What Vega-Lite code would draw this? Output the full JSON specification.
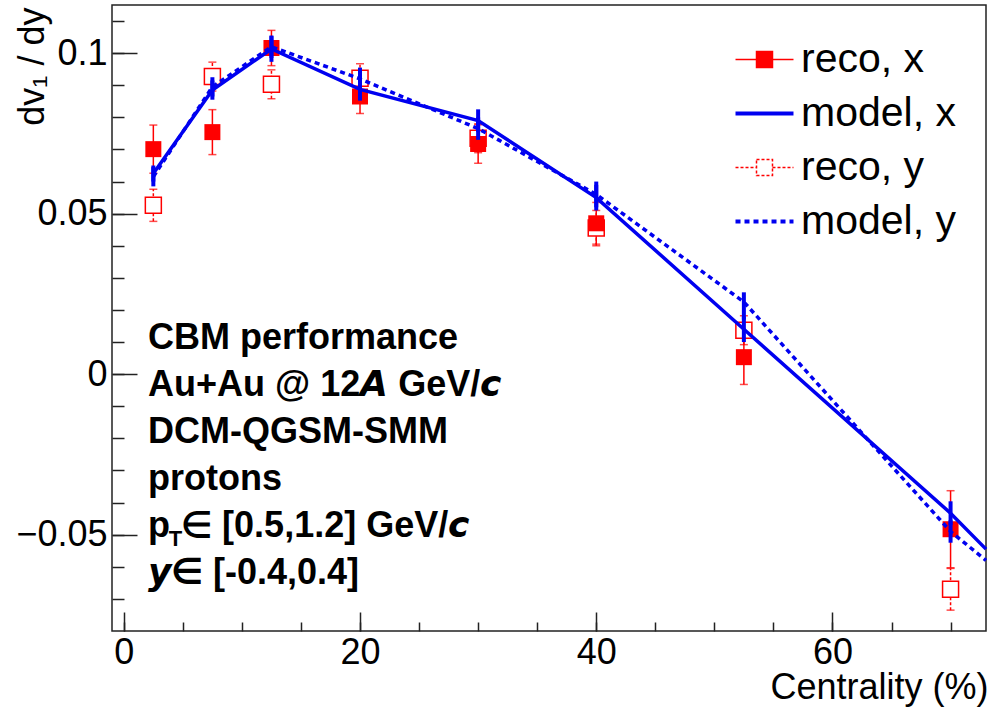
{
  "$schema": "https://vega.github.io/schema/vega-lite/v6.json",
  "width": 874,
  "height": 626,
  "autosize": {"type": "none"},
  "padding": {"left": 112, "top": 5, "right": 6, "bottom": 76},
  "background": "white",
  "config": {
    "view": {"stroke": "#222", "strokeWidth": 1.5},
    "font": "Liberation Sans",
    "axis": {
      "grid": false, "domain": false, "tickColor": "#222", "tickWidth": 1.5,
      "labelFont": "Liberation Sans", "labelFontSize": 36, "labelColor": "#000",
      "titleFont": "Liberation Sans", "titleFontSize": 36, "titleFontWeight": "normal", "titleColor": "#000"
    },
    "legend": {
      "orient": "none", "legendX": 632, "legendY": 34, "padding": 0,
      "symbolSize": 900, "symbolOpacity": 1, "labelFont": "Liberation Sans", "labelFontSize": 41,
      "labelColor": "#000", "labelOffset": 16, "rowPadding": 12, "symbolOffset": 0
    }
  },
  "datasets": {
    "pts": [
      {"series": "reco, x", "c": 2.5, "v": 0.0701, "lo": 0.0626, "hi": 0.0776},
      {"series": "reco, x", "c": 7.5, "v": 0.0754, "lo": 0.0684, "hi": 0.0824},
      {"series": "reco, x", "c": 12.5, "v": 0.1016, "lo": 0.0961, "hi": 0.1071},
      {"series": "reco, x", "c": 20, "v": 0.0865, "lo": 0.0812, "hi": 0.0918},
      {"series": "reco, x", "c": 30, "v": 0.0717, "lo": 0.0657, "hi": 0.0777},
      {"series": "reco, x", "c": 40, "v": 0.047, "lo": 0.0405, "hi": 0.0535},
      {"series": "reco, x", "c": 52.5, "v": 0.0053, "lo": -0.0032, "hi": 0.0138},
      {"series": "reco, x", "c": 70, "v": -0.0483, "lo": -0.0603, "hi": -0.0363},
      {"series": "reco, y", "c": 2.5, "v": 0.0526, "lo": 0.0476, "hi": 0.0576},
      {"series": "reco, y", "c": 7.5, "v": 0.0927, "lo": 0.0882, "hi": 0.0972},
      {"series": "reco, y", "c": 12.5, "v": 0.0903, "lo": 0.0858, "hi": 0.0948},
      {"series": "reco, y", "c": 20, "v": 0.0922, "lo": 0.0877, "hi": 0.0967},
      {"series": "reco, y", "c": 30, "v": 0.0735, "lo": 0.069, "hi": 0.078},
      {"series": "reco, y", "c": 40, "v": 0.0455, "lo": 0.04, "hi": 0.051},
      {"series": "reco, y", "c": 52.5, "v": 0.0137, "lo": 0.0092, "hi": 0.0182},
      {"series": "reco, y", "c": 70, "v": -0.067, "lo": -0.0735, "hi": -0.0605},
      {"series": "model, x", "c": 2.5, "v": 0.0625, "lo": 0.06, "hi": 0.065},
      {"series": "model, x", "c": 7.5, "v": 0.0885, "lo": 0.0855, "hi": 0.0915},
      {"series": "model, x", "c": 12.5, "v": 0.1013, "lo": 0.0973, "hi": 0.1053},
      {"series": "model, x", "c": 20, "v": 0.0887, "lo": 0.0852, "hi": 0.0922},
      {"series": "model, x", "c": 30, "v": 0.079, "lo": 0.0755, "hi": 0.0825},
      {"series": "model, x", "c": 40, "v": 0.055, "lo": 0.051, "hi": 0.059},
      {"series": "model, x", "c": 52.5, "v": 0.014, "lo": 0.01, "hi": 0.018},
      {"series": "model, x", "c": 70, "v": -0.0433, "lo": -0.047, "hi": -0.0396},
      {"series": "model, x", "c": 73, "v": -0.0545, "lo": null, "hi": null},
      {"series": "model, y", "c": 2.5, "v": 0.0615, "lo": 0.0585, "hi": 0.0645},
      {"series": "model, y", "c": 7.5, "v": 0.0895, "lo": 0.0865, "hi": 0.0925},
      {"series": "model, y", "c": 12.5, "v": 0.102, "lo": 0.0985, "hi": 0.1055},
      {"series": "model, y", "c": 20, "v": 0.092, "lo": 0.0885, "hi": 0.0955},
      {"series": "model, y", "c": 30, "v": 0.0765, "lo": 0.073, "hi": 0.08},
      {"series": "model, y", "c": 40, "v": 0.056, "lo": 0.052, "hi": 0.06},
      {"series": "model, y", "c": 52.5, "v": 0.0225, "lo": 0.017, "hi": 0.0255},
      {"series": "model, y", "c": 70, "v": -0.049, "lo": -0.0525, "hi": -0.0455},
      {"series": "model, y", "c": 73, "v": -0.058, "lo": null, "hi": null}
    ]
  },
  "resolve": {"axis": {"x": "independent", "y": "independent"}},
  "layer": [
    {
      "data": {"name": "pts"},
      "layer": [
        {
          "transform": [{"filter": {"field": "series", "equal": "reco, x"}}],
          "mark": {"type": "rule", "strokeWidth": 1.5, "color": "#ff0000"},
          "encoding": {
            "x": {"field": "c", "type": "quantitative", "scale": {"domain": [-1, 73], "nice": false, "zero": false},
              "axis": {"orient": "bottom", "values": [0, 20, 40, 60], "format": "d", "tickSize": -19, "labelPadding": 23, "labelFlush": false,
                "title": "Centrality (%)", "titleX": 876, "titleY": 67, "titleAlign": "right", "titleBaseline": "alphabetic"}},
            "y": {"field": "lo", "type": "quantitative", "scale": {"domain": [-0.08, 0.115], "nice": false, "zero": false},
              "axis": {"orient": "left", "values": [-0.05, 0, 0.05, 0.1], "format": "~g", "tickSize": -25, "labelPadding": 30, "labelFlush": false,
                "title": "dv₁ / dy", "titleX": -69, "titleY": 2, "titleAngle": 270, "titleAlign": "right", "titleBaseline": "alphabetic"}},
            "y2": {"field": "hi"}
          }
        },
        {
          "transform": [{"filter": {"field": "series", "equal": "reco, y"}}],
          "mark": {"type": "rule", "strokeWidth": 1.5, "color": "#ff0000", "strokeDash": [3, 2]},
          "encoding": {"x": {"field": "c", "type": "quantitative"}, "y": {"field": "lo", "type": "quantitative"}, "y2": {"field": "hi"}}
        },
        {
          "transform": [{"filter": {"field": "series", "oneOf": ["reco, x", "reco, y"]}}],
          "mark": {"type": "tick", "orient": "horizontal", "size": 8, "thickness": 1.5, "color": "#ff0000"},
          "encoding": {"x": {"field": "c", "type": "quantitative"}, "y": {"field": "lo", "type": "quantitative"}}
        },
        {
          "transform": [{"filter": {"field": "series", "oneOf": ["reco, x", "reco, y"]}}],
          "mark": {"type": "tick", "orient": "horizontal", "size": 8, "thickness": 1.5, "color": "#ff0000"},
          "encoding": {"x": {"field": "c", "type": "quantitative"}, "y": {"field": "hi", "type": "quantitative"}}
        },
        {
          "transform": [{"filter": {"field": "series", "equal": "reco, y"}}],
          "mark": {"type": "point", "shape": "square", "filled": false, "fill": "white", "stroke": "#ff0000", "size": 256, "strokeWidth": 1.5, "opacity": 1},
          "encoding": {
            "x": {"field": "c", "type": "quantitative"},
            "y": {"field": "v", "type": "quantitative"}
          }
        },
        {
          "transform": [{"filter": {"field": "series", "equal": "reco, x"}}],
          "mark": {"type": "point", "shape": "square", "filled": true, "size": 256, "opacity": 1, "color": "#ff0000"},
          "encoding": {
            "x": {"field": "c", "type": "quantitative"},
            "y": {"field": "v", "type": "quantitative"}
          }
        },
        {
          "transform": [{"filter": {"field": "series", "oneOf": ["model, x", "model, y"]}}, {"filter": "datum.lo != null"}],
          "mark": {"type": "rule", "strokeWidth": 4, "color": "#0000f0"},
          "encoding": {
            "x": {"field": "c", "type": "quantitative"},
            "y": {"field": "lo", "type": "quantitative"},
            "y2": {"field": "hi"}
          }
        },
        {
          "transform": [{"filter": {"field": "series", "equal": "model, x"}}],
          "mark": {"type": "line", "strokeWidth": 3.5, "color": "#0000f0"},
          "encoding": {
            "x": {"field": "c", "type": "quantitative"},
            "y": {"field": "v", "type": "quantitative"},
            "order": {"field": "c", "type": "quantitative"}
          }
        },
        {
          "transform": [{"filter": {"field": "series", "equal": "model, y"}}],
          "mark": {"type": "line", "strokeWidth": 3.5, "color": "#0000f0", "strokeDash": [5, 4]},
          "encoding": {
            "x": {"field": "c", "type": "quantitative"},
            "y": {"field": "v", "type": "quantitative"},
            "order": {"field": "c", "type": "quantitative"}
          }
        },
        {
          "transform": [{"filter": "false"}],
          "mark": {"type": "point", "filled": false},
          "encoding": {
            "x": {"field": "c", "type": "quantitative"},
            "y": {"field": "v", "type": "quantitative"},
            "fill": {"field": "series", "type": "nominal", "legend": {"title": null},
              "scale": {"domain": ["reco, x", "model, x", "reco, y", "model, y"], "range": ["#ff0000", "transparent", "#ffffff", "transparent"]}},
            "stroke": {"field": "series", "type": "nominal", "legend": {"title": null},
              "scale": {"domain": ["reco, x", "model, x", "reco, y", "model, y"], "range": ["#ff0000", "#0000f0", "#ff0000", "#0000f0"]}},
            "shape": {"field": "series", "type": "nominal", "legend": {"title": null},
              "scale": {"domain": ["reco, x", "model, x", "reco, y", "model, y"],
                "range": ["M-1.933,0H-0.533M-0.533,-0.533H0.533V0.533H-0.533ZM0.533,0H1.933", "M-1.933,0H1.933", "M-1.933,0H-0.533M-0.533,-0.533H0.533V0.533H-0.533ZM0.533,0H1.933", "M-1.933,0H1.933"]}},
            "strokeDash": {"field": "series", "type": "nominal", "legend": {"title": null},
              "scale": {"domain": ["reco, x", "model, x", "reco, y", "model, y"], "range": [[1, 0], [1, 0], [3, 2], [5, 4]]}},
            "strokeWidth": {"field": "series", "type": "nominal", "legend": {"title": null},
              "scale": {"type": "ordinal", "domain": ["reco, x", "model, x", "reco, y", "model, y"], "range": [1.5, 4, 1.5, 4]}}
          }
        },
        {"data": {"values": [{}]},
         "mark": {"type": "text", "align": "left", "baseline": "alphabetic", "fontSize": 36, "fontWeight": "bold", "font": "Liberation Sans", "color": "#000"},
         "encoding": {"x": {"datum": 2.05}, "y": {"datum": 0.00785}, "text": {"value": "CBM performance"}}},
        {"data": {"values": [{}]},
         "mark": {"type": "text", "align": "left", "baseline": "alphabetic", "fontSize": 36, "fontWeight": "bold", "font": "Liberation Sans", "color": "#000"},
         "encoding": {"x": {"datum": 2.05}, "y": {"datum": -0.0068}, "text": {"value": "Au+Au @ 12𝘼 GeV/𝙘"}}},
        {"data": {"values": [{}]},
         "mark": {"type": "text", "align": "left", "baseline": "alphabetic", "fontSize": 36, "fontWeight": "bold", "font": "Liberation Sans", "color": "#000"},
         "encoding": {"x": {"datum": 2.05}, "y": {"datum": -0.02143}, "text": {"value": "DCM-QGSM-SMM"}}},
        {"data": {"values": [{}]},
         "mark": {"type": "text", "align": "left", "baseline": "alphabetic", "fontSize": 36, "fontWeight": "bold", "font": "Liberation Sans", "color": "#000"},
         "encoding": {"x": {"datum": 2.05}, "y": {"datum": -0.03607}, "text": {"value": "protons"}}},
        {"data": {"values": [{}]},
         "mark": {"type": "text", "align": "left", "baseline": "alphabetic", "fontSize": 36, "fontWeight": "bold", "font": "Liberation Sans", "color": "#000"},
         "encoding": {"x": {"datum": 2.05}, "y": {"datum": -0.05071}, "text": {"value": "p"}}},
        {"data": {"values": [{}]},
         "mark": {"type": "text", "align": "left", "baseline": "alphabetic", "fontSize": 22, "fontWeight": "bold", "font": "Liberation Sans", "color": "#000"},
         "encoding": {"x": {"datum": 3.8}, "y": {"datum": -0.05352}, "text": {"value": "T"}}},
        {"data": {"values": [{}]},
         "mark": {"type": "text", "align": "left", "baseline": "alphabetic", "fontSize": 36, "fontWeight": "bold", "font": "Liberation Sans", "color": "#000"},
         "encoding": {"x": {"datum": 4.85}, "y": {"datum": -0.05071}, "text": {"value": "∈ [0.5,1.2] GeV/𝙘"}}},
        {"data": {"values": [{}]},
         "mark": {"type": "text", "align": "left", "baseline": "alphabetic", "fontSize": 36, "fontWeight": "bold", "font": "Liberation Sans", "color": "#000"},
         "encoding": {"x": {"datum": 2.05}, "y": {"datum": -0.06535}, "text": {"value": "𝙮∈ [-0.4,0.4]"}}}
      ]
    },
    {
      "data": {"name": "pts"},
      "mark": {"type": "point", "opacity": 0},
      "encoding": {
        "x": {"field": "c", "type": "quantitative",
          "axis": {"orient": "bottom", "values": [0, 5, 10, 15, 20, 25, 30, 35, 40, 45, 50, 55, 60, 65, 70], "tickSize": -9, "labels": false, "title": null, "domain": false}},
        "y": {"field": "v", "type": "quantitative",
          "axis": {"orient": "left", "values": [-0.07, -0.06, -0.05, -0.04, -0.03, -0.02, -0.01, 0, 0.01, 0.02, 0.03, 0.04, 0.05, 0.06, 0.07, 0.08, 0.09, 0.1, 0.11], "tickSize": -12, "labels": false, "title": null, "domain": false}}
      }
    }
  ]
}
